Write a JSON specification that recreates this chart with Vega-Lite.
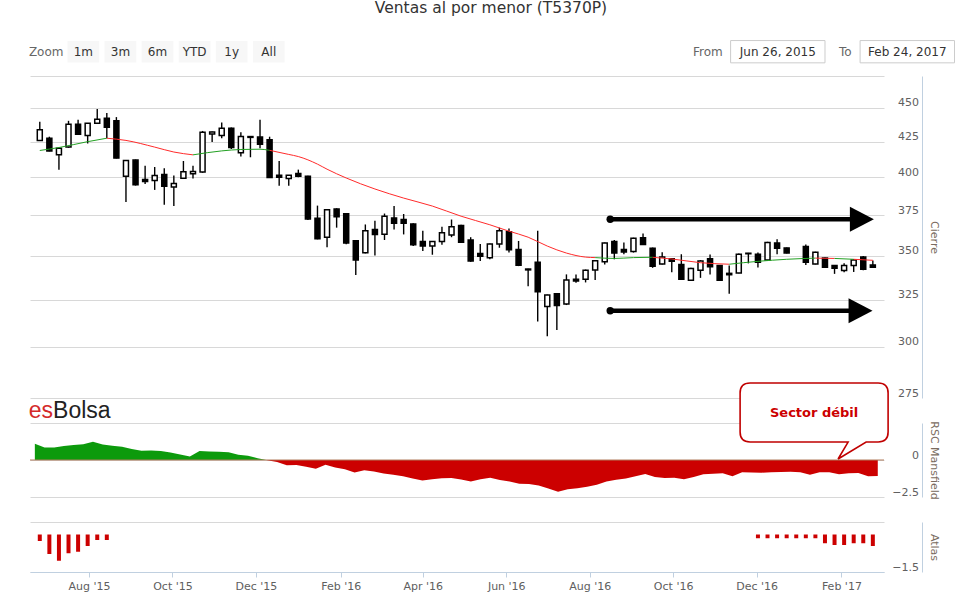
{
  "$schema": "https://vega.github.io/schema/vega-lite/v6.json",
  "description": "Ventas al por menor (T5370P): velas semanales, media movil, RSC Mansfield y Atlas",
  "width": 854,
  "height": 572,
  "autosize": "none",
  "padding": {"left": 30, "top": 0, "right": 75, "bottom": 31},
  "background": "white",
  "config": {
    "font": "DejaVu Sans",
    "view": {"stroke": null},
    "axis": {
      "labelFont": "DejaVu Sans",
      "labelFontSize": 11,
      "labelColor": "#606060",
      "titleFont": "DejaVu Sans",
      "titleFontSize": 11,
      "titleFontWeight": "normal",
      "titleColor": "#7a6c60",
      "gridColor": "#D8D8D8",
      "gridWidth": 1,
      "domainColor": "#C0D0E0",
      "tickColor": "#C0D0E0"
    }
  },
  "datasets": {
    "candles": [
      {"d": "2015-06-26", "o": 425.8, "h": 439.5, "l": 425.3, "c": 433.5},
      {"d": "2015-07-03", "o": 427.4, "h": 428.5, "l": 418.0, "c": 418.3},
      {"d": "2015-07-10", "o": 415.5, "h": 420.5, "l": 405.2, "c": 420.2},
      {"d": "2015-07-17", "o": 421.0, "h": 440.2, "l": 420.5, "c": 437.7},
      {"d": "2015-07-24", "o": 437.7, "h": 441.0, "l": 430.0, "c": 430.3},
      {"d": "2015-07-31", "o": 429.4, "h": 438.6, "l": 423.6, "c": 438.4},
      {"d": "2015-08-07", "o": 438.4, "h": 449.2, "l": 438.0, "c": 441.4},
      {"d": "2015-08-14", "o": 442.2, "h": 446.0, "l": 427.4, "c": 435.4},
      {"d": "2015-08-21", "o": 440.2, "h": 443.0, "l": 413.0, "c": 413.2},
      {"d": "2015-08-28", "o": 400.7, "h": 411.6, "l": 383.5, "c": 411.5},
      {"d": "2015-09-04", "o": 411.8, "h": 412.2, "l": 394.4, "c": 394.9},
      {"d": "2015-09-11", "o": 398.5, "h": 407.9, "l": 395.4, "c": 397.2},
      {"d": "2015-09-18", "o": 397.8, "h": 407.0, "l": 391.5, "c": 401.2},
      {"d": "2015-09-25", "o": 401.8, "h": 406.2, "l": 381.8, "c": 394.0},
      {"d": "2015-10-02", "o": 393.4, "h": 401.2, "l": 381.0, "c": 395.8},
      {"d": "2015-10-09", "o": 399.4, "h": 411.2, "l": 399.0, "c": 403.7},
      {"d": "2015-10-16", "o": 402.3, "h": 407.9, "l": 399.2, "c": 403.9},
      {"d": "2015-10-23", "o": 403.5, "h": 432.7, "l": 403.0, "c": 431.8},
      {"d": "2015-10-30", "o": 430.5, "h": 432.3, "l": 424.6, "c": 432.0},
      {"d": "2015-11-06", "o": 429.4, "h": 439.0, "l": 427.4, "c": 434.7},
      {"d": "2015-11-13", "o": 434.7, "h": 435.2, "l": 419.6, "c": 420.7},
      {"d": "2015-11-20", "o": 417.0, "h": 431.8, "l": 414.3, "c": 428.7},
      {"d": "2015-11-27", "o": 428.6, "h": 428.8, "l": 413.8, "c": 428.0},
      {"d": "2015-12-04", "o": 428.2, "h": 441.0, "l": 420.2, "c": 423.0},
      {"d": "2015-12-11", "o": 426.2, "h": 428.5, "l": 399.5, "c": 399.9},
      {"d": "2015-12-18", "o": 401.4, "h": 411.2, "l": 394.2, "c": 400.0},
      {"d": "2015-12-25", "o": 399.2, "h": 401.5, "l": 394.2, "c": 401.4},
      {"d": "2016-01-01", "o": 402.6, "h": 405.2, "l": 400.0, "c": 400.7},
      {"d": "2016-01-08", "o": 400.7, "h": 401.0, "l": 372.0, "c": 372.7},
      {"d": "2016-01-15", "o": 373.1, "h": 381.2, "l": 360.0, "c": 360.3},
      {"d": "2016-01-22", "o": 361.3, "h": 379.0, "l": 355.2, "c": 378.6},
      {"d": "2016-01-29", "o": 379.0, "h": 379.5, "l": 367.2, "c": 374.0},
      {"d": "2016-02-05", "o": 375.9, "h": 376.2, "l": 357.0, "c": 357.8},
      {"d": "2016-02-12", "o": 359.2, "h": 359.5, "l": 338.8, "c": 347.6},
      {"d": "2016-02-19", "o": 351.9, "h": 369.2, "l": 351.5, "c": 365.3},
      {"d": "2016-02-26", "o": 366.1, "h": 371.5, "l": 350.3, "c": 363.0},
      {"d": "2016-03-04", "o": 363.1, "h": 376.1, "l": 359.6, "c": 374.4},
      {"d": "2016-03-11", "o": 373.3, "h": 381.0, "l": 366.0, "c": 369.9},
      {"d": "2016-03-18", "o": 372.3, "h": 375.8, "l": 363.0, "c": 369.9},
      {"d": "2016-03-25", "o": 369.5, "h": 370.0, "l": 356.0, "c": 356.7},
      {"d": "2016-04-01", "o": 358.6, "h": 365.3, "l": 353.0, "c": 355.9},
      {"d": "2016-04-08", "o": 355.9, "h": 358.8, "l": 350.7, "c": 358.6},
      {"d": "2016-04-15", "o": 358.6, "h": 367.7, "l": 356.7, "c": 364.1},
      {"d": "2016-04-22", "o": 362.7, "h": 372.3, "l": 361.3, "c": 367.7},
      {"d": "2016-04-29", "o": 368.5, "h": 369.0, "l": 357.8, "c": 358.2},
      {"d": "2016-05-06", "o": 359.6, "h": 361.3, "l": 346.5, "c": 347.0},
      {"d": "2016-05-13", "o": 351.5, "h": 357.2, "l": 347.0, "c": 349.8},
      {"d": "2016-05-20", "o": 348.9, "h": 357.5, "l": 348.0, "c": 357.2},
      {"d": "2016-05-27", "o": 357.1, "h": 367.2, "l": 354.9, "c": 365.3},
      {"d": "2016-06-03", "o": 364.7, "h": 366.7, "l": 352.0, "c": 353.7},
      {"d": "2016-06-10", "o": 353.9, "h": 359.0, "l": 344.0, "c": 344.5},
      {"d": "2016-06-17", "o": 342.3, "h": 342.5, "l": 332.5, "c": 341.8},
      {"d": "2016-06-24", "o": 346.2, "h": 365.3, "l": 313.1, "c": 329.4},
      {"d": "2016-07-01", "o": 321.2, "h": 327.8, "l": 305.4, "c": 327.6},
      {"d": "2016-07-08", "o": 328.2, "h": 328.6, "l": 308.7, "c": 321.8},
      {"d": "2016-07-15", "o": 322.6, "h": 339.2, "l": 322.0, "c": 336.0},
      {"d": "2016-07-22", "o": 336.4, "h": 339.2, "l": 334.4, "c": 335.4},
      {"d": "2016-07-29", "o": 336.4, "h": 342.0, "l": 334.6, "c": 341.6},
      {"d": "2016-08-05", "o": 341.8, "h": 347.5, "l": 336.0, "c": 347.2},
      {"d": "2016-08-12", "o": 346.6, "h": 358.0, "l": 345.0, "c": 357.8},
      {"d": "2016-08-19", "o": 358.7, "h": 359.6, "l": 348.0, "c": 351.7},
      {"d": "2016-08-26", "o": 353.9, "h": 358.0, "l": 351.0, "c": 352.4},
      {"d": "2016-09-02", "o": 352.6, "h": 361.0, "l": 352.0, "c": 360.6},
      {"d": "2016-09-09", "o": 361.0, "h": 363.6, "l": 356.5, "c": 356.8},
      {"d": "2016-09-16", "o": 354.6, "h": 355.0, "l": 343.0, "c": 343.9},
      {"d": "2016-09-23", "o": 345.3, "h": 352.2, "l": 345.0, "c": 349.3},
      {"d": "2016-09-30", "o": 348.3, "h": 348.6, "l": 340.5, "c": 346.8},
      {"d": "2016-10-07", "o": 345.0, "h": 351.0, "l": 336.0, "c": 336.4},
      {"d": "2016-10-14", "o": 335.8, "h": 343.0, "l": 335.5, "c": 342.6},
      {"d": "2016-10-21", "o": 341.6, "h": 347.5, "l": 337.2, "c": 347.0},
      {"d": "2016-10-28", "o": 348.3, "h": 350.8, "l": 339.2, "c": 343.6},
      {"d": "2016-11-04", "o": 344.3, "h": 344.5, "l": 335.5, "c": 335.8},
      {"d": "2016-11-11", "o": 339.8, "h": 344.3, "l": 328.3, "c": 339.0},
      {"d": "2016-11-18", "o": 340.0, "h": 351.5, "l": 339.8, "c": 351.0},
      {"d": "2016-11-25", "o": 351.3, "h": 351.8, "l": 345.6, "c": 351.6},
      {"d": "2016-12-02", "o": 351.0, "h": 352.0, "l": 343.2, "c": 346.2},
      {"d": "2016-12-09", "o": 347.6, "h": 358.5, "l": 347.0, "c": 358.0},
      {"d": "2016-12-16", "o": 357.8, "h": 360.1, "l": 351.0, "c": 354.6},
      {"d": "2016-12-23", "o": 354.8, "h": 355.0, "l": 351.5, "c": 351.8},
      {"d": "2017-01-06", "o": 355.6, "h": 356.8, "l": 344.7, "c": 346.2},
      {"d": "2017-01-13", "o": 345.3, "h": 352.5, "l": 345.0, "c": 352.2},
      {"d": "2017-01-20", "o": 348.7, "h": 349.0, "l": 343.0, "c": 343.4},
      {"d": "2017-01-27", "o": 344.3, "h": 344.5, "l": 339.5, "c": 342.8},
      {"d": "2017-02-03", "o": 341.4, "h": 345.7, "l": 340.4, "c": 344.3},
      {"d": "2017-02-10", "o": 344.3, "h": 348.0, "l": 340.6, "c": 347.6},
      {"d": "2017-02-17", "o": 349.3, "h": 350.0, "l": 341.6, "c": 342.1},
      {"d": "2017-02-24", "o": 344.7, "h": 347.3, "l": 343.0, "c": 343.4}
    ],
    "ma": [
      {"d": "2015-06-26", "ma": 418.6, "seg": 1, "t": "up"},
      {"d": "2015-07-10", "ma": 420.7, "seg": 1, "t": "up"},
      {"d": "2015-07-31", "ma": 424.9, "seg": 1, "t": "up"},
      {"d": "2015-08-14", "ma": 427.4, "seg": 1, "t": "up"},
      {"d": "2015-08-14", "ma": 427.4, "seg": 2, "t": "down"},
      {"d": "2015-08-28", "ma": 425.8, "seg": 2, "t": "down"},
      {"d": "2015-09-18", "ma": 421.0, "seg": 2, "t": "down"},
      {"d": "2015-10-02", "ma": 417.5, "seg": 2, "t": "down"},
      {"d": "2015-10-16", "ma": 415.5, "seg": 2, "t": "down"},
      {"d": "2015-10-16", "ma": 415.5, "seg": 3, "t": "up"},
      {"d": "2015-11-06", "ma": 418.3, "seg": 3, "t": "up"},
      {"d": "2015-11-20", "ma": 419.3, "seg": 3, "t": "up"},
      {"d": "2015-12-04", "ma": 419.5, "seg": 3, "t": "up"},
      {"d": "2015-12-11", "ma": 418.7, "seg": 3, "t": "up"},
      {"d": "2015-12-11", "ma": 418.7, "seg": 4, "t": "down"},
      {"d": "2015-12-25", "ma": 415.8, "seg": 4, "t": "down"},
      {"d": "2016-01-01", "ma": 414.3, "seg": 4, "t": "down"},
      {"d": "2016-01-15", "ma": 409.0, "seg": 4, "t": "down"},
      {"d": "2016-01-22", "ma": 405.5, "seg": 4, "t": "down"},
      {"d": "2016-02-05", "ma": 399.5, "seg": 4, "t": "down"},
      {"d": "2016-02-26", "ma": 392.1, "seg": 4, "t": "down"},
      {"d": "2016-03-18", "ma": 386.1, "seg": 4, "t": "down"},
      {"d": "2016-04-08", "ma": 380.9, "seg": 4, "t": "down"},
      {"d": "2016-04-29", "ma": 374.4, "seg": 4, "t": "down"},
      {"d": "2016-05-20", "ma": 369.0, "seg": 4, "t": "down"},
      {"d": "2016-06-03", "ma": 365.0, "seg": 4, "t": "down"},
      {"d": "2016-06-17", "ma": 361.3, "seg": 4, "t": "down"},
      {"d": "2016-07-01", "ma": 355.9, "seg": 4, "t": "down"},
      {"d": "2016-07-15", "ma": 351.7, "seg": 4, "t": "down"},
      {"d": "2016-07-29", "ma": 349.3, "seg": 4, "t": "down"},
      {"d": "2016-08-05", "ma": 349.0, "seg": 4, "t": "down"},
      {"d": "2016-08-05", "ma": 349.0, "seg": 5, "t": "up"},
      {"d": "2016-08-19", "ma": 348.5, "seg": 5, "t": "up"},
      {"d": "2016-09-02", "ma": 349.0, "seg": 5, "t": "up"},
      {"d": "2016-09-16", "ma": 349.2, "seg": 5, "t": "up"},
      {"d": "2016-09-16", "ma": 349.2, "seg": 6, "t": "down"},
      {"d": "2016-09-30", "ma": 348.2, "seg": 6, "t": "down"},
      {"d": "2016-10-21", "ma": 346.0, "seg": 6, "t": "down"},
      {"d": "2016-11-11", "ma": 345.1, "seg": 6, "t": "down"},
      {"d": "2016-11-11", "ma": 345.1, "seg": 7, "t": "up"},
      {"d": "2016-12-02", "ma": 346.8, "seg": 7, "t": "up"},
      {"d": "2016-12-23", "ma": 348.0, "seg": 7, "t": "up"},
      {"d": "2017-01-13", "ma": 348.7, "seg": 7, "t": "up"},
      {"d": "2017-01-13", "ma": 348.7, "seg": 8, "t": "down"},
      {"d": "2017-01-27", "ma": 348.5, "seg": 8, "t": "down"},
      {"d": "2017-01-27", "ma": 348.5, "seg": 9, "t": "up"},
      {"d": "2017-02-10", "ma": 348.0, "seg": 9, "t": "up"},
      {"d": "2017-02-10", "ma": 348.0, "seg": 10, "t": "down"},
      {"d": "2017-02-24", "ma": 347.4, "seg": 10, "t": "down"}
    ],
    "arrows": [
      {"from": "2016-08-16", "to": "2017-02-16", "level": 372.5},
      {"from": "2016-08-16", "to": "2017-02-15", "level": 318.9}
    ],
    "rsc": [
      {"d": "2015-06-26", "v": 1.10}, {"d": "2015-07-03", "v": 0.85}, {"d": "2015-07-10", "v": 0.85},
      {"d": "2015-07-17", "v": 0.95}, {"d": "2015-07-24", "v": 1.02}, {"d": "2015-07-31", "v": 1.06},
      {"d": "2015-08-07", "v": 1.24}, {"d": "2015-08-14", "v": 1.05}, {"d": "2015-08-21", "v": 0.97},
      {"d": "2015-08-28", "v": 0.90}, {"d": "2015-09-04", "v": 0.75}, {"d": "2015-09-11", "v": 0.63},
      {"d": "2015-09-18", "v": 0.64}, {"d": "2015-09-25", "v": 0.60}, {"d": "2015-10-02", "v": 0.50},
      {"d": "2015-10-09", "v": 0.38}, {"d": "2015-10-16", "v": 0.23}, {"d": "2015-10-23", "v": 0.61},
      {"d": "2015-10-30", "v": 0.57}, {"d": "2015-11-06", "v": 0.55}, {"d": "2015-11-13", "v": 0.52},
      {"d": "2015-11-20", "v": 0.36}, {"d": "2015-11-27", "v": 0.28}, {"d": "2015-12-04", "v": 0.12},
      {"d": "2015-12-11", "v": -0.02}, {"d": "2015-12-18", "v": -0.14}, {"d": "2015-12-25", "v": -0.35},
      {"d": "2016-01-01", "v": -0.34}, {"d": "2016-01-08", "v": -0.45}, {"d": "2016-01-15", "v": -0.59},
      {"d": "2016-01-22", "v": -0.32}, {"d": "2016-01-29", "v": -0.50}, {"d": "2016-02-05", "v": -0.62},
      {"d": "2016-02-12", "v": -0.84}, {"d": "2016-02-19", "v": -0.70}, {"d": "2016-02-26", "v": -0.78},
      {"d": "2016-03-04", "v": -0.92}, {"d": "2016-03-11", "v": -1.00}, {"d": "2016-03-18", "v": -1.10},
      {"d": "2016-03-25", "v": -1.25}, {"d": "2016-04-01", "v": -1.38}, {"d": "2016-04-08", "v": -1.30},
      {"d": "2016-04-15", "v": -1.24}, {"d": "2016-04-22", "v": -1.22}, {"d": "2016-04-29", "v": -1.32},
      {"d": "2016-05-06", "v": -1.45}, {"d": "2016-05-13", "v": -1.30}, {"d": "2016-05-20", "v": -1.20},
      {"d": "2016-05-27", "v": -1.35}, {"d": "2016-06-03", "v": -1.45}, {"d": "2016-06-10", "v": -1.60},
      {"d": "2016-06-17", "v": -1.62}, {"d": "2016-06-24", "v": -1.72}, {"d": "2016-07-01", "v": -1.93},
      {"d": "2016-07-08", "v": -2.14}, {"d": "2016-07-15", "v": -1.98}, {"d": "2016-07-22", "v": -1.91},
      {"d": "2016-07-29", "v": -1.80}, {"d": "2016-08-05", "v": -1.68}, {"d": "2016-08-12", "v": -1.45},
      {"d": "2016-08-19", "v": -1.33}, {"d": "2016-08-26", "v": -1.25}, {"d": "2016-09-02", "v": -1.10},
      {"d": "2016-09-09", "v": -0.95}, {"d": "2016-09-16", "v": -1.15}, {"d": "2016-09-23", "v": -1.22},
      {"d": "2016-09-30", "v": -1.20}, {"d": "2016-10-07", "v": -1.30}, {"d": "2016-10-14", "v": -1.15},
      {"d": "2016-10-21", "v": -0.97}, {"d": "2016-10-28", "v": -0.93}, {"d": "2016-11-04", "v": -0.90},
      {"d": "2016-11-11", "v": -1.10}, {"d": "2016-11-18", "v": -0.83}, {"d": "2016-11-25", "v": -0.85},
      {"d": "2016-12-02", "v": -0.86}, {"d": "2016-12-09", "v": -0.83}, {"d": "2016-12-16", "v": -0.81},
      {"d": "2016-12-23", "v": -0.80}, {"d": "2016-12-30", "v": -0.82}, {"d": "2017-01-06", "v": -1.00},
      {"d": "2017-01-13", "v": -0.82}, {"d": "2017-01-20", "v": -0.83}, {"d": "2017-01-27", "v": -0.97},
      {"d": "2017-02-03", "v": -0.90}, {"d": "2017-02-10", "v": -0.87}, {"d": "2017-02-17", "v": -1.10},
      {"d": "2017-02-24", "v": -1.08}
    ],
    "atlas": [
      {"d": "2015-06-26", "a": -0.26}, {"d": "2015-07-03", "a": -0.78}, {"d": "2015-07-10", "a": -1.05},
      {"d": "2015-07-17", "a": -0.75}, {"d": "2015-07-24", "a": -0.69}, {"d": "2015-07-31", "a": -0.46},
      {"d": "2015-08-07", "a": -0.22}, {"d": "2015-08-14", "a": -0.22},
      {"d": "2016-12-02", "a": -0.15}, {"d": "2016-12-09", "a": -0.15}, {"d": "2016-12-16", "a": -0.15},
      {"d": "2016-12-23", "a": -0.15}, {"d": "2016-12-30", "a": -0.15}, {"d": "2017-01-06", "a": -0.15},
      {"d": "2017-01-13", "a": -0.15}, {"d": "2017-01-20", "a": -0.35}, {"d": "2017-01-27", "a": -0.42},
      {"d": "2017-02-03", "a": -0.42}, {"d": "2017-02-10", "a": -0.35}, {"d": "2017-02-17", "a": -0.35},
      {"d": "2017-02-24", "a": -0.46}
    ]
  },
  "layer": [
    {
      "layer": [
        {
          "data": {"name": "candles"},
          "mark": {"type": "rule", "color": "black", "strokeWidth": 1.4},
          "encoding": {
            "x": {"field": "d", "type": "temporal", "axis": null,
              "scale": {"type": "utc", "nice": false, "domain": [{"year": 2015, "month": 6, "date": 22, "hours": 12, "utc": true}, {"year": 2017, "month": 2, "date": 28, "hours": 12, "utc": true}]}},
            "y": {"field": "l", "type": "quantitative",
              "scale": {"type": "log", "domain": [275, 475], "range": [398, 76], "nice": false, "zero": false},
              "axis": {"orient": "right", "offset": 38, "values": [275, 300, 325, 350, 375, 400, 425, 450, 475],
                "format": "d", "labelExpr": "datum.value > 460 ? '' : datum.label",
                "labelAlign": "right", "labelPadding": -3.5, "labelOffset": -5, "ticks": false, "tickSize": 0,
                "grid": true, "title": "Cierre", "titlePadding": 6}},
            "y2": {"field": "h"}
          }
        },
        {
          "data": {"name": "candles"},
          "mark": {"type": "bar", "size": 5, "stroke": "black", "strokeWidth": 1.5},
          "encoding": {
            "x": {"field": "d", "type": "temporal", "axis": null,
              "scale": {"type": "utc", "nice": false, "domain": [{"year": 2015, "month": 6, "date": 22, "hours": 12, "utc": true}, {"year": 2017, "month": 2, "date": 28, "hours": 12, "utc": true}]}},
            "y": {"field": "o", "type": "quantitative",
              "scale": {"type": "log", "domain": [275, 475], "range": [398, 76], "nice": false, "zero": false},
              "axis": {"orient": "right", "offset": 38, "values": [275, 300, 325, 350, 375, 400, 425, 450, 475],
                "format": "d", "labelExpr": "datum.value > 460 ? '' : datum.label",
                "labelAlign": "right", "labelPadding": -3.5, "labelOffset": -5, "ticks": false, "tickSize": 0,
                "grid": true, "title": "Cierre", "titlePadding": 6}},
            "y2": {"field": "c"},
            "fill": {"condition": {"test": "datum.c > datum.o", "value": "white"}, "value": "black"}
          }
        },
        {
          "data": {"name": "ma"},
          "mark": {"type": "line", "strokeWidth": 1, "interpolate": "monotone"},
          "encoding": {
            "x": {"field": "d", "type": "temporal", "axis": null,
              "scale": {"type": "utc", "nice": false, "domain": [{"year": 2015, "month": 6, "date": 22, "hours": 12, "utc": true}, {"year": 2017, "month": 2, "date": 28, "hours": 12, "utc": true}]}},
            "y": {"field": "ma", "type": "quantitative",
              "scale": {"type": "log", "domain": [275, 475], "range": [398, 76], "nice": false, "zero": false},
              "axis": {"orient": "right", "offset": 38, "values": [275, 300, 325, 350, 375, 400, 425, 450, 475],
                "format": "d", "labelExpr": "datum.value > 460 ? '' : datum.label",
                "labelAlign": "right", "labelPadding": -3.5, "labelOffset": -5, "ticks": false, "tickSize": 0,
                "grid": true, "title": "Cierre", "titlePadding": 6}},
            "detail": {"field": "seg"},
            "color": {"field": "t", "type": "nominal", "legend": null,
              "scale": {"domain": ["up", "down"], "range": ["#22a022", "#ff2b2b"]}}
          }
        },
        {
          "data": {"name": "arrows"},
          "mark": {"type": "rule", "color": "black", "strokeWidth": 4.5},
          "encoding": {
            "x": {"field": "from", "type": "temporal", "axis": null},
            "x2": {"field": "to"},
            "y": {"field": "level", "type": "quantitative",
              "scale": {"type": "log", "domain": [275, 475], "range": [398, 76], "nice": false, "zero": false},
              "axis": {"orient": "right", "offset": 38, "values": [275, 300, 325, 350, 375, 400, 425, 450, 475],
                "format": "d", "labelExpr": "datum.value > 460 ? '' : datum.label",
                "labelAlign": "right", "labelPadding": -3.5, "labelOffset": -5, "ticks": false, "tickSize": 0,
                "grid": true, "title": "Cierre", "titlePadding": 6}}
          }
        },
        {
          "data": {"name": "arrows"},
          "mark": {"type": "point", "shape": "circle", "filled": true, "color": "black", "size": 55, "opacity": 1},
          "encoding": {
            "x": {"field": "from", "type": "temporal", "axis": null},
            "y": {"field": "level", "type": "quantitative",
              "scale": {"type": "log", "domain": [275, 475], "range": [398, 76], "nice": false, "zero": false},
              "axis": {"orient": "right", "offset": 38, "values": [275, 300, 325, 350, 375, 400, 425, 450, 475],
                "format": "d", "labelExpr": "datum.value > 460 ? '' : datum.label",
                "labelAlign": "right", "labelPadding": -3.5, "labelOffset": -5, "ticks": false, "tickSize": 0,
                "grid": true, "title": "Cierre", "titlePadding": 6}}
          }
        },
        {
          "data": {"name": "arrows"},
          "mark": {"type": "point", "shape": "M-1,-1.04L1,0L-1,1.04Z", "filled": true, "color": "black", "size": 576, "opacity": 1},
          "encoding": {
            "x": {"field": "to", "type": "temporal", "axis": null},
            "y": {"field": "level", "type": "quantitative",
              "scale": {"type": "log", "domain": [275, 475], "range": [398, 76], "nice": false, "zero": false},
              "axis": {"orient": "right", "offset": 38, "values": [275, 300, 325, 350, 375, 400, 425, 450, 475],
                "format": "d", "labelExpr": "datum.value > 460 ? '' : datum.label",
                "labelAlign": "right", "labelPadding": -3.5, "labelOffset": -5, "ticks": false, "tickSize": 0,
                "grid": true, "title": "Cierre", "titlePadding": 6}}
          }
        }
      ]
    },
    {
      "layer": [
        {
          "data": {"name": "rsc"},
          "mark": {"type": "area", "interpolate": "linear",
            "color": {"gradient": "linear", "x1": 0, "y1": 0, "x2": 0, "y2": 1,
              "stops": [
                {"offset": 0, "color": "#0c9a0c"},
                {"offset": 0.3669, "color": "#0c9a0c"},
                {"offset": 0.3669, "color": "#cc0000"},
                {"offset": 1, "color": "#cc0000"}
              ]}},
          "encoding": {
            "x": {"field": "d", "type": "temporal", "axis": null,
              "scale": {"type": "utc", "nice": false, "domain": [{"year": 2015, "month": 6, "date": 22, "hours": 12, "utc": true}, {"year": 2017, "month": 2, "date": 28, "hours": 12, "utc": true}]}},
            "y": {"field": "v", "type": "quantitative",
              "scale": {"domain": [-2.5, 2.5], "range": [497, 423], "nice": false, "zero": false},
              "axis": {"orient": "right", "offset": 38, "values": [-2.5, 0, 2.5], "format": ".1f",
                "labelExpr": "datum.value > 1 ? '' : (datum.value == 0 ? '0' : datum.label)",
                "labelAlign": "right", "labelPadding": -3.5, "labelOffset": -5, "ticks": false, "tickSize": 0,
                "grid": true, "title": "RSC Mansfield", "titlePadding": 6}},
            "y2": {"datum": 0}
          }
        },
        {
          "data": {"values": [{}]},
          "mark": {"type": "rule", "color": "#b07a5a", "strokeWidth": 1},
          "encoding": {
            "y": {"datum": 0, "type": "quantitative",
              "scale": {"domain": [-2.5, 2.5], "range": [497, 423], "nice": false, "zero": false},
              "axis": {"orient": "right", "offset": 38, "values": [-2.5, 0, 2.5], "format": ".1f",
                "labelExpr": "datum.value > 1 ? '' : (datum.value == 0 ? '0' : datum.label)",
                "labelAlign": "right", "labelPadding": -3.5, "labelOffset": -5, "ticks": false, "tickSize": 0,
                "grid": true, "title": "RSC Mansfield", "titlePadding": 6}}
          }
        },
        {
          "data": {"values": [{}]},
          "mark": {"type": "text", "text": "es", "align": "right", "baseline": "alphabetic", "font": "Liberation Sans", "fontSize": 23, "color": "#d42a2a"},
          "encoding": {
            "x": {"datum": {"year": 2015, "month": 7, "date": 9, "hours": 4, "utc": true}, "type": "temporal", "axis": null},
            "y": {"datum": 2.84, "type": "quantitative",
              "scale": {"domain": [-2.5, 2.5], "range": [497, 423], "nice": false, "zero": false},
              "axis": {"orient": "right", "offset": 38, "values": [-2.5, 0, 2.5], "format": ".1f",
                "labelExpr": "datum.value > 1 ? '' : (datum.value == 0 ? '0' : datum.label)",
                "labelAlign": "right", "labelPadding": -3.5, "labelOffset": -5, "ticks": false, "tickSize": 0,
                "grid": true, "title": "RSC Mansfield", "titlePadding": 6}}
          }
        },
        {
          "data": {"values": [{}]},
          "mark": {"type": "text", "text": "Bolsa", "align": "left", "baseline": "alphabetic", "font": "Liberation Sans", "fontSize": 23, "color": "#222222"},
          "encoding": {
            "x": {"datum": {"year": 2015, "month": 7, "date": 9, "hours": 4, "utc": true}, "type": "temporal", "axis": null},
            "y": {"datum": 2.84, "type": "quantitative",
              "scale": {"domain": [-2.5, 2.5], "range": [497, 423], "nice": false, "zero": false},
              "axis": {"orient": "right", "offset": 38, "values": [-2.5, 0, 2.5], "format": ".1f",
                "labelExpr": "datum.value > 1 ? '' : (datum.value == 0 ? '0' : datum.label)",
                "labelAlign": "right", "labelPadding": -3.5, "labelOffset": -5, "ticks": false, "tickSize": 0,
                "grid": true, "title": "RSC Mansfield", "titlePadding": 6}}
          }
        },
        {
          "data": {"values": [{}]},
          "mark": {"type": "point",
            "shape": "M-0.865,-0.399L0.865,-0.399Q1,-0.399,1,-0.264L1,0.264Q1,0.399,0.865,0.399L0.703,0.399L0.324,0.628L0.459,0.399L-0.865,0.399Q-1,0.399,-1,0.264L-1,-0.264Q-1,-0.399,-0.865,-0.399Z",
            "size": 21904, "filled": true, "fill": "white", "stroke": "#c00000", "strokeWidth": 1.6, "opacity": 1},
          "encoding": {
            "x": {"datum": {"year": 2017, "month": 1, "date": 9, "utc": true}, "type": "temporal", "axis": null},
            "y": {"datum": 3.209, "type": "quantitative",
              "scale": {"domain": [-2.5, 2.5], "range": [497, 423], "nice": false, "zero": false},
              "axis": {"orient": "right", "offset": 38, "values": [-2.5, 0, 2.5], "format": ".1f",
                "labelExpr": "datum.value > 1 ? '' : (datum.value == 0 ? '0' : datum.label)",
                "labelAlign": "right", "labelPadding": -3.5, "labelOffset": -5, "ticks": false, "tickSize": 0,
                "grid": true, "title": "RSC Mansfield", "titlePadding": 6}}
          }
        },
        {
          "data": {"values": [{}]},
          "mark": {"type": "text", "text": "Sector débil", "align": "center", "baseline": "middle", "fontSize": 13, "fontWeight": "bold", "color": "#cc0000"},
          "encoding": {
            "x": {"datum": {"year": 2017, "month": 1, "date": 9, "utc": true}, "type": "temporal", "axis": null},
            "y": {"datum": 3.17, "type": "quantitative",
              "scale": {"domain": [-2.5, 2.5], "range": [497, 423], "nice": false, "zero": false},
              "axis": {"orient": "right", "offset": 38, "values": [-2.5, 0, 2.5], "format": ".1f",
                "labelExpr": "datum.value > 1 ? '' : (datum.value == 0 ? '0' : datum.label)",
                "labelAlign": "right", "labelPadding": -3.5, "labelOffset": -5, "ticks": false, "tickSize": 0,
                "grid": true, "title": "RSC Mansfield", "titlePadding": 6}}
          }
        }
      ]
    },
    {
      "data": {"name": "atlas"},
      "mark": {"type": "bar", "size": 4, "color": "#cc0000"},
      "encoding": {
        "x": {"field": "d", "type": "temporal",
          "scale": {"type": "utc", "nice": false, "domain": [{"year": 2015, "month": 6, "date": 22, "hours": 12, "utc": true}, {"year": 2017, "month": 2, "date": 28, "hours": 12, "utc": true}]},
          "axis": {"orient": "bottom", "title": null, "grid": false,
            "labelExpr": "utcFormat(datum.value, \"%b '%y\")",
            "values": [
              {"year": 2015, "month": 8, "date": 1, "utc": true}, {"year": 2015, "month": 10, "date": 1, "utc": true},
              {"year": 2015, "month": 12, "date": 1, "utc": true}, {"year": 2016, "month": 2, "date": 1, "utc": true},
              {"year": 2016, "month": 4, "date": 1, "utc": true}, {"year": 2016, "month": 6, "date": 1, "utc": true},
              {"year": 2016, "month": 8, "date": 1, "utc": true}, {"year": 2016, "month": 10, "date": 1, "utc": true},
              {"year": 2016, "month": 12, "date": 1, "utc": true}, {"year": 2017, "month": 2, "date": 1, "utc": true}
            ],
            "tickSize": 5, "labelPadding": 3, "labelFlush": false, "labelOverlap": false}},
        "y": {"field": "a", "type": "quantitative",
          "scale": {"domain": [-1.5, 0.5], "range": [572, 522], "nice": false, "zero": false},
          "axis": {"orient": "right", "offset": 38, "values": [-1.5, 0.5], "format": ".1f",
            "labelExpr": "datum.value > 0 ? '' : datum.label",
            "labelAlign": "right", "labelPadding": -3.5, "labelOffset": -5, "ticks": false, "tickSize": 0,
            "grid": true, "title": "Atlas", "titlePadding": 6}},
        "y2": {"datum": 0}
      }
    },
    {
      "data": {"values": [{"t": "Ventas al por menor (T5370P)"}]},
      "mark": {"type": "text", "fontSize": 15.5, "baseline": "alphabetic", "align": "center", "color": "#333333"},
      "encoding": {
        "x": {"field": "t", "type": "nominal", "axis": null,
          "scale": {"type": "point", "domain": ["Ventas al por menor (T5370P)"], "range": [461, 461], "padding": 0}},
        "y": {"datum": 529, "type": "quantitative", "axis": null,
          "scale": {"type": "log", "domain": [275, 475], "range": [398, 76], "nice": false, "zero": false}},
        "text": {"field": "t"}
      }
    },
    {
      "data": {"values": [{"b": "Zoom"}, {"b": "1m"}, {"b": "3m"}, {"b": "6m"}, {"b": "YTD"}, {"b": "1y"}, {"b": "All"}]},
      "encoding": {
        "x": {"field": "b", "type": "nominal", "axis": null,
          "scale": {"type": "point", "domain": ["Zoom", "1m", "3m", "6m", "YTD", "1y", "All"], "range": [16.2, 238.8], "padding": 0}},
        "y": {"datum": 495, "type": "quantitative", "axis": null,
          "scale": {"type": "log", "domain": [275, 475], "range": [398, 76], "nice": false, "zero": false}}
      },
      "layer": [
        {
          "mark": {"type": "point", "shape": "M-1,-0.68L1,-0.68L1,0.68L-1,0.68Z", "size": 1005, "filled": true, "color": "#f7f7f7", "opacity": 1},
          "encoding": {
            "fillOpacity": {"condition": {"test": "datum.b === 'Zoom'", "value": 0}, "value": 1}
          }
        },
        {
          "mark": {"type": "text", "fontSize": 12, "baseline": "middle", "align": "center"},
          "encoding": {
            "text": {"field": "b"},
            "color": {"condition": {"test": "datum.b === 'Zoom'", "value": "#666666"}, "value": "#333333"}
          }
        }
      ]
    },
    {
      "data": {"values": [{"k": "From"}, {"k": "To"}]},
      "mark": {"type": "text", "fontSize": 12, "baseline": "middle", "align": "center", "color": "#666666"},
      "encoding": {
        "x": {"field": "k", "type": "nominal", "axis": null,
          "scale": {"type": "point", "domain": ["From", "To"], "range": [677.8, 815.2], "padding": 0}},
        "y": {"datum": 495, "type": "quantitative", "axis": null,
          "scale": {"type": "log", "domain": [275, 475], "range": [398, 76], "nice": false, "zero": false}},
        "text": {"field": "k"}
      }
    },
    {
      "data": {"values": [{"k": "Jun 26, 2015"}, {"k": "Feb 24, 2017"}]},
      "encoding": {
        "x": {"field": "k", "type": "nominal", "axis": null,
          "scale": {"type": "point", "domain": ["Jun 26, 2015", "Feb 24, 2017"], "range": [747.8, 877.3], "padding": 0}},
        "y": {"datum": 495, "type": "quantitative", "axis": null,
          "scale": {"type": "log", "domain": [275, 475], "range": [398, 76], "nice": false, "zero": false}}
      },
      "layer": [
        {
          "mark": {"type": "point", "shape": "M-1,-0.236L1,-0.236L1,0.236L-1,0.236Z", "size": 8911, "filled": true, "fill": "white", "stroke": "#cccccc", "strokeWidth": 1, "opacity": 1}
        },
        {
          "mark": {"type": "text", "fontSize": 12, "baseline": "middle", "align": "center", "color": "#333333"},
          "encoding": {"text": {"field": "k"}}
        }
      ]
    }
  ],
  "resolve": {
    "scale": {"x": "independent", "y": "independent"},
    "axis": {"x": "independent", "y": "independent"}
  }
}
